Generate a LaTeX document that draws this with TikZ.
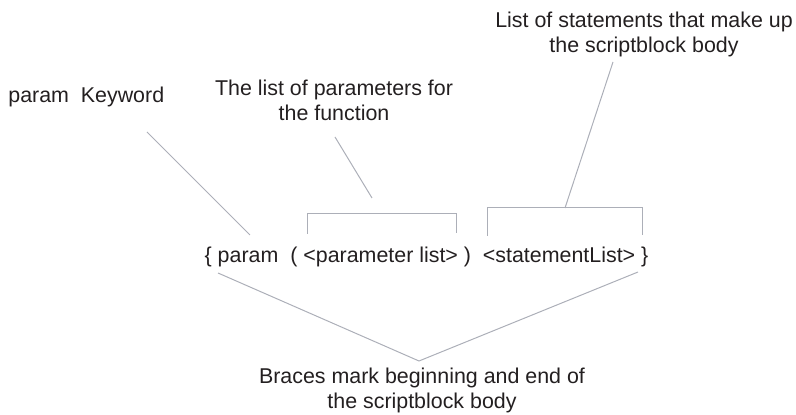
\documentclass[tikz,border=0pt]{standalone}
\usepackage{fontspec}
\setmainfont{Liberation Sans}
\usepackage{xcolor}
\definecolor{inkgray}{RGB}{35,31,32}
\definecolor{leadgray}{RGB}{172,175,184}

\begin{document}
\begin{tikzpicture}[x=0.5pt, y=-0.5pt,
    label/.style={text=inkgray, inner sep=0pt, align=center, font=\fontsize{10.7}{12.5}\selectfont},
    leader/.style={draw=leadgray, line width=0.5pt}]

\useasboundingbox (0,0) rectangle (796,415);

% The scriptblock syntax line
\node[label] (code) at (426.5,257) {\{ param\ \ ( <parameter list> )\ \ <statementList> \}};

% param keyword callout
\node[label, anchor=west] (kw) at (8,97) {param\ \ Keyword};
\coordinate (kwtop) at (147,132);
\coordinate (kwtip) at (250,235);
\draw[leader] (kwtop) -- (kwtip);

% parameter list callout and bracket
\node[label] (params) at (334,100) {The list of parameters for\\the function};
\coordinate (partop) at (335,137);
\coordinate (parmid) at (372,198);
\draw[leader] (partop) -- (parmid);
\draw[leader] (307,234) -- (307,214) -- (456,214) -- (456,233);

% statement list callout and bracket
\node[label] (stmts) at (644,34) {List of statements that make up\\the scriptblock body};
\coordinate (sttop) at (613,62);
\coordinate (stmid) at (565,208);
\draw[leader] (sttop) -- (stmid);
\draw[leader] (487,236) -- (487,208) -- (642,208) -- (642,235);

% braces callout
\node[label] (braces) at (422,390) {Braces mark beginning and end of\\the scriptblock body};
\coordinate (lbrace) at (218,273);
\coordinate (rbrace) at (638,272);
\coordinate (apex) at (419,361);
\draw[leader] (lbrace) -- (apex) -- (rbrace);

\end{tikzpicture}
\end{document}
